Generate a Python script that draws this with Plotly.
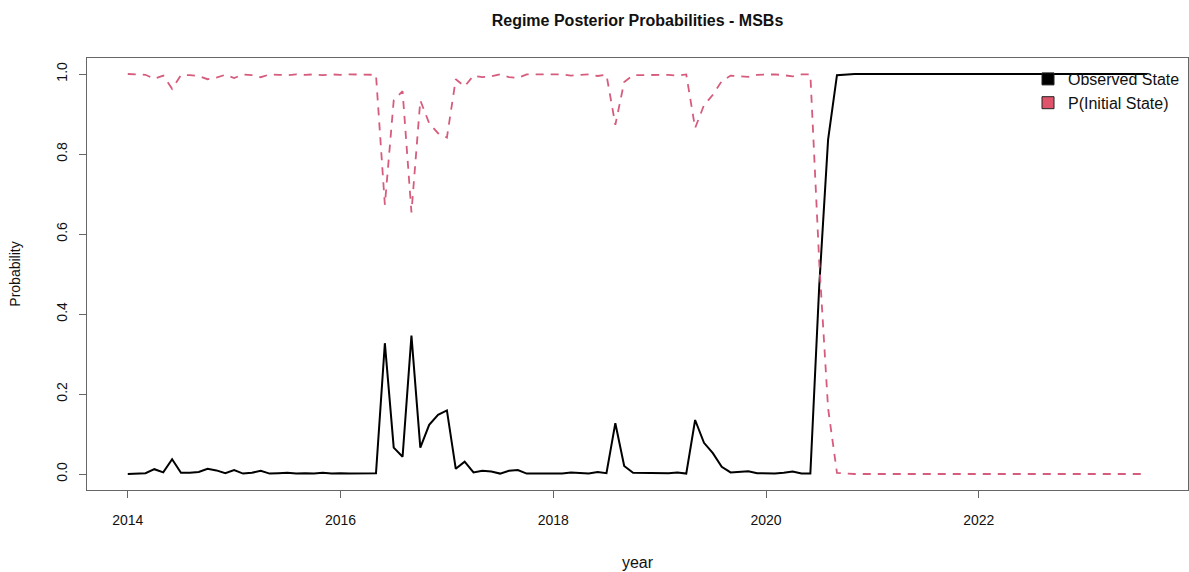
import plotly.graph_objects as go

# monthly observations, Jan 2014 .. Aug 2023
start_year = 2014
n_months = 116
years = [start_year + i / 12 for i in range(n_months)]

observed_state = [
    0.000, 0.001, 0.002, 0.012, 0.004, 0.037, 0.003, 0.003, 0.005, 0.013, 0.009, 0.002,
    0.010, 0.001, 0.003, 0.008, 0.001, 0.002, 0.003, 0.001, 0.002, 0.001, 0.003, 0.001,
    0.002, 0.001, 0.001, 0.002, 0.002, 0.327, 0.066, 0.043, 0.346, 0.066, 0.123, 0.148,
    0.159, 0.013, 0.031, 0.004, 0.008, 0.006, 0.001, 0.008, 0.010, 0.001, 0.001, 0.002,
    0.001, 0.001, 0.004, 0.003, 0.001, 0.005, 0.002, 0.127, 0.020, 0.003, 0.003, 0.003,
    0.002, 0.002, 0.004, 0.001, 0.135, 0.078, 0.052, 0.018, 0.004, 0.006, 0.007, 0.002,
    0.001, 0.001, 0.003, 0.006, 0.001, 0.001, 0.470, 0.836, 0.997, 0.999, 1.000, 1.000,
    1.000, 1.000, 1.000, 1.000, 1.000, 1.000, 1.000, 1.000, 1.000, 1.000, 1.000, 1.000,
    1.000, 1.000, 1.000, 1.000, 1.000, 1.000, 1.000, 1.000, 1.000, 1.000, 1.000, 1.000,
    1.000, 1.000, 1.000, 1.000, 1.000, 1.000, 1.000, 1.000,
]

p_initial_state = [
    1.000, 0.999, 0.998, 0.988, 0.996, 0.963, 0.997, 0.997, 0.995, 0.987, 0.991, 0.998,
    0.990, 0.999, 0.997, 0.992, 0.999, 0.998, 0.997, 0.999, 0.998, 0.999, 0.997, 0.999,
    0.998, 0.999, 0.999, 0.998, 0.998, 0.673, 0.934, 0.957, 0.654, 0.934, 0.877, 0.852,
    0.841, 0.987, 0.969, 0.996, 0.992, 0.994, 0.999, 0.992, 0.990, 0.999, 0.999, 0.998,
    0.999, 0.999, 0.996, 0.997, 0.999, 0.995, 0.998, 0.873, 0.980, 0.997, 0.997, 0.997,
    0.998, 0.998, 0.996, 0.999, 0.865, 0.922, 0.948, 0.982, 0.996, 0.994, 0.993, 0.998,
    0.999, 0.999, 0.997, 0.994, 0.999, 0.999, 0.530, 0.164, 0.003, 0.001, 0.000, 0.000,
    0.000, 0.000, 0.000, 0.000, 0.000, 0.000, 0.000, 0.000, 0.000, 0.000, 0.000, 0.000,
    0.000, 0.000, 0.000, 0.000, 0.000, 0.000, 0.000, 0.000, 0.000, 0.000, 0.000, 0.000,
    0.000, 0.000, 0.000, 0.000, 0.000, 0.000, 0.000, 0.000,
]

x_ticks = [2014, 2016, 2018, 2020, 2022]
y_ticks = [0.0, 0.2, 0.4, 0.6, 0.8, 1.0]
y_tick_text = ["0.0", "0.2", "0.4", "0.6", "0.8", "1.0"]

series_names = ["Observed State", "P(Initial State)"]
BLACK = "#000000"
PINK = "#DF536B"
PINK_LINE = "#D65C7D"
FONT = "Liberation Sans, Arial, sans-serif"

fig = go.Figure()
fig.add_trace(go.Scatter(x=years, y=observed_state, mode="lines",
                         line=dict(color=BLACK, width=2), showlegend=False))
fig.add_trace(go.Scatter(x=years, y=p_initial_state, mode="lines",
                         line=dict(color=PINK_LINE, width=1.8, dash="8px,7px"),
                         showlegend=False))
# legend entries as filled squares (R style)
for name, col in zip(series_names, [BLACK, PINK]):
    fig.add_trace(go.Scatter(x=[None], y=[None], mode="markers", name=name,
                             marker=dict(symbol="square", size=12, color=col,
                                         line=dict(color="#222", width=1))))

xr = [2014 - 0.04 * (years[-1] - 2014), years[-1] + 0.04 * (years[-1] - 2014)]
axis_col = "#666666"
fig.update_layout(
    width=1189, height=572,
    margin=dict(l=87, r=1, t=58, b=82),
    paper_bgcolor="white", plot_bgcolor="white",
    font=dict(family=FONT, size=14, color="#111"),
    title=dict(text="<b>Regime Posterior Probabilities - MSBs</b>",
               x=(87 + 1188) / 2 / 1189, xanchor="center", y=1 - 20 / 572,
               yanchor="middle", font=dict(size=16, family=FONT, color="#111")),
    xaxis=dict(range=xr, tickvals=x_ticks, ticktext=[str(t) for t in x_ticks],
               showgrid=False, zeroline=False, showline=True, linecolor=axis_col,
               linewidth=1, mirror=True, ticks="outside", ticklen=7,
               tickcolor=axis_col, tickfont=dict(size=14), ticklabelstandoff=10,
               title=dict(text="year", font=dict(size=16), standoff=30)),
    yaxis=dict(range=[-0.04, 1.04], tickvals=y_ticks, ticktext=y_tick_text,
               showgrid=False, zeroline=False, showline=True, linecolor=axis_col,
               linewidth=1, mirror=True, ticks="outside", ticklen=7,
               tickcolor=axis_col, tickangle=-90, tickfont=dict(size=14),
               ticklabelstandoff=6,
               title=dict(text="Probability", font=dict(size=14), standoff=30)),
    legend=dict(x=(1028 - 87) / 1101, xanchor="left", y=(490 - 62) / 432,
                yanchor="top", bgcolor="rgba(0,0,0,0)", borderwidth=0,
                font=dict(size=16, family=FONT), tracegroupgap=0),
)

fig.write_html("out.html")
